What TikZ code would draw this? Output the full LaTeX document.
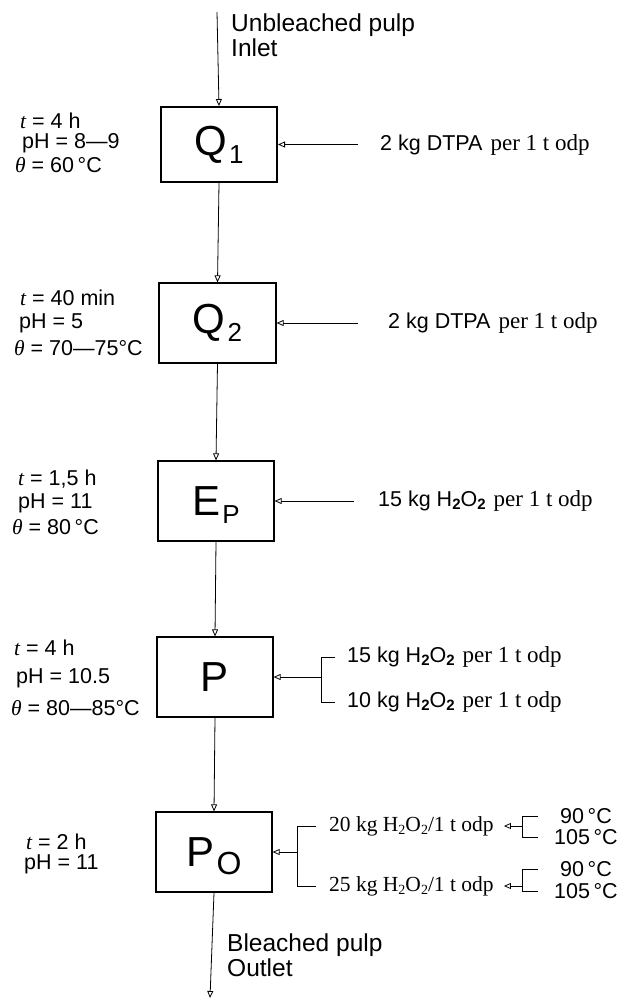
\documentclass[tikz,border=0pt]{standalone}
\usepackage{fontspec}
\setmainfont{Liberation Sans}
\newfontfamily\tms{Liberation Serif}
\usetikzlibrary{arrows.meta}
\newcommand{\lsub}[1]{\raisebox{-0.3ex}{\fontsize{15}{15}\selectfont\bfseries #1}}
\newcommand{\tsub}[1]{\raisebox{-0.35ex}{\fontsize{14}{14}\selectfont #1}}
\newcommand{\bsub}[2][26]{\hspace{2pt}\smash{\raisebox{-8pt}{\fontsize{#1}{#1}\selectfont #2}}}
\newcommand{\tit}[1]{{\tms\itshape #1}}
\newcommand{\tper}{\hspace{8pt}{\tms\fontsize{23}{26}\selectfont per 1 t odp}}
\begin{document}
\begin{tikzpicture}[x=1pt,y=-1pt,
  every node/.style={inner sep=0pt, font=\fontsize{21.5}{24}\selectfont},
  big/.style={font=\fontsize{24.5}{27}\selectfont},
  stage/.style={draw, line width=1.2pt, minimum width=116pt, minimum height=80pt, font=\fontsize{42}{46}\selectfont},
  lbl/.style={anchor=west},
  flow/.style={line width=0.8pt, -{Triangle[open,length=7pt,width=6pt]}},
  conn/.style={line width=0.8pt}]
\path[use as bounding box] (0,0) rectangle (623,1001);

% stages
\node[stage, line width=2pt, minimum height=75pt] (q1) at (219,144.5) {Q\bsub{1}};
\node[stage, minimum width=117pt] (q2) at (217.5,323) {Q\bsub{2}};
\node[stage] (ep) at (216,501) {E\bsub{P}};
\node[stage] (p) at (215,677) {P};
\node[stage] (po) at (214,852) {P\bsub[32]{O}};

% inlet / outlet
\coordinate (in) at (217,12);
\coordinate (out) at (210,998);
\draw[flow] (in) -- (q1.north);
\node[lbl, big] (inl1) at (231,25) {Unbleached pulp};
\node[lbl, big] (inl2) at (231,48) {Inlet};
\draw[flow] (q1.south) -- (q2.north);
\draw[flow] (q2.south) -- (ep.north);
\draw[flow] (ep.south) -- (p.north);
\draw[flow] (p.south) -- (po.north);
\draw[flow] (po.south) -- (out);
\node[lbl, big] (outl1) at (227,945) {Bleached pulp};
\node[lbl, big] (outl2) at (227,968) {Outlet};

% conditions
\node[lbl] (c11) at (20,121) {\tit{t} = 4 h};
\node[lbl] (c12) at (22,143) {pH = 8—9};
\node[lbl] (c13) at (15,165) {\tit{θ} = 60\,°C};

\node[lbl] (c21) at (20,298) {\tit{t} = 40 min};
\node[lbl] (c22) at (19,323) {pH = 5};
\node[lbl] (c23) at (14,348) {\tit{θ} = 70—75°C};

\node[lbl] (c31) at (18,479) {\tit{t} = 1,5 h};
\node[lbl] (c32) at (18,503) {pH = 11};
\node[lbl] (c33) at (12,527) {\tit{θ} = 80\,°C};

\node[lbl] (c41) at (14,648) {\tit{t} = 4 h};
\node[lbl] (c42) at (16,678) {pH = 10.5};
\node[lbl] (c43) at (11,708) {\tit{θ} = 80—85°C};

\node[lbl] (c51) at (26,842) {\tit{t} = 2 h};
\node[lbl] (c52) at (24,864) {pH = 11};

% chemicals
\node[lbl] (r1) at (380,144.5) {2 kg DTPA\tper};
\draw[flow] ([xshift=-22pt]r1.west) -- (q1.east);
\node[lbl] (r2) at (388,323) {2 kg DTPA\tper};
\draw[flow] ([xshift=-30pt]r2.west) -- (q2.east);
\node[lbl] (r3) at (378,501) {15 kg H\lsub{2}O\lsub{2}\tper};
\draw[flow] ([xshift=-24pt]r3.west) -- (ep.east);

\node[lbl] (p15) at (347,657) {15 kg H\lsub{2}O\lsub{2}\tper};
\node[lbl] (p10) at (347,702) {10 kg H\lsub{2}O\lsub{2}\tper};
\coordinate (pb) at (321,677);
\draw[conn] ([xshift=-12pt]p15.west) -- (pb |- p15.west) -- (pb |- p10.west) -- ([xshift=-12pt]p10.west);
\draw[flow] (pb) -- (p.east);

\node[lbl, font=\tms\fontsize{21.5}{24}\selectfont] (o20) at (329,826) {20 kg H\tsub{2}O\tsub{2}/1 t odp};
\node[lbl, font=\tms\fontsize{21.5}{24}\selectfont] (o25) at (329,886) {25 kg H\tsub{2}O\tsub{2}/1 t odp};
\coordinate (ob) at (297,852);
\draw[conn] ([xshift=-13pt]o20.west) -- (ob |- o20.west) -- (ob |- o25.west) -- ([xshift=-13pt]o25.west);
\draw[flow] (ob) -- (po.east);

\node[lbl] (ta1) at (560,816) {90\,°C};
\node[lbl] (tb1) at (554,837) {105\,°C};
\node[lbl] (ta2) at (560,869) {90\,°C};
\node[lbl] (tb2) at (554,891) {105\,°C};
\coordinate (k1) at (522,826);
\coordinate (k2) at (522,886);
\draw[conn] (k1 |- ta1.west) -- ++(16,0);
\draw[conn] (k1 |- ta1.west) -- (k1 |- tb1.west) -- ++(16,0);
\draw[conn] (k2 |- ta2.west) -- ++(16,0);
\draw[conn] (k2 |- ta2.west) -- (k2 |- tb2.west) -- ++(16,0);
\draw[flow] (k1) -- ([xshift=10pt]o20.east);
\draw[flow] (k2) -- ([xshift=10pt]o25.east);
\end{tikzpicture}
\end{document}
